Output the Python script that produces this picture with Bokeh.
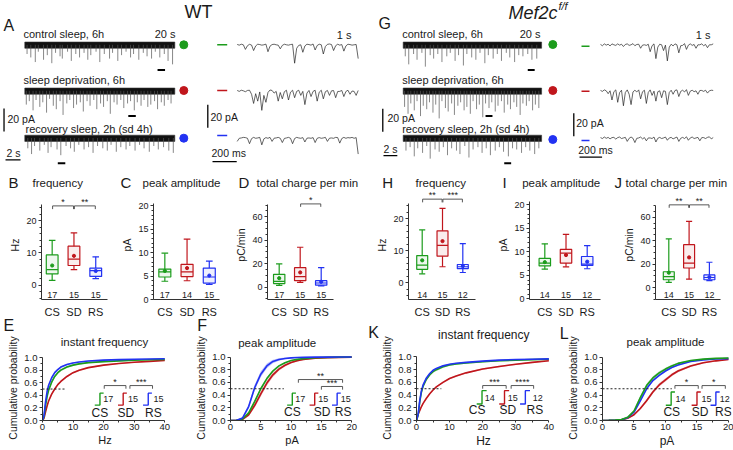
from bokeh.plotting import figure
from bokeh.models import Range1d, FixedTicker, PrintfTickFormatter
from bokeh.layouts import column, row
from bokeh.embed import file_html
from bokeh.resources import INLINE
from bokeh.core.properties import value

FONT = "Liberation Sans"
GREEN, RED, BLUE = "#1c9c1c", "#c0161c", "#2232f2"
COLORS = [GREEN, RED, BLUE]
GROUPS = ["CS", "SD", "RS"]
AX = "#333333"
TXT = "#1a1a1a"
W = 733

# ======================= DATA =======================
# --- example traces (pA) ---
TRACE_OFFSETS = [0, -40, -81]          # stacking of CS / SD / RS traces (pA)
LONG_DUR = 20.0                         # s
SHORT_DUR = 1.0                         # s
BAND_LO, BAND_HI = -3.0, 2.4            # baseline noise band of 20 s traces (pA)
SCALE_PA, SCALE_S, SCALE_MS = 20, 2, 0.2

WT_CS_t = [0.3, 0.8, 1.4, 1.8, 2.5, 3.0, 3.6, 4.1, 4.7, 5.0, 5.7, 6.2, 6.8, 7.3, 7.9, 8.4, 8.8, 9.5, 10.0, 10.6,
           11.3, 11.7, 12.4, 12.9, 13.5, 14.1, 14.5, 15.2, 15.8, 16.3, 16.9, 17.4, 18.0, 18.6, 19.1, 19.7]
WT_CS_a = [8, 11, 15, 6, 13, 9, 16, 7, 10, 12, 6, 14, 8, 11, 7, 13, 9, 6, 15, 8,
           12, 7, 14, 9, 6, 11, 8, 13, 7, 10, 12, 6, 11, 8, 14, 17]
WT_SD_t = [0.2, 0.6, 1.1, 1.5, 2.0, 2.4, 2.9, 3.3, 3.8, 4.2, 4.7, 5.1, 5.6, 6.0, 6.5, 6.9, 7.4, 7.8, 8.3, 8.7,
           9.2, 9.6, 10.1, 10.5, 11.0, 11.4, 11.9, 12.3, 12.8, 13.2, 13.7, 14.1, 14.6, 15.0, 15.5, 15.9, 16.4,
           16.8, 17.3, 17.7, 18.2, 18.6, 19.1, 19.5]
WT_SD_a = [12, 9, 17, 8, 14, 10, 19, 7, 13, 16, 9, 21, 11, 8, 15, 12, 10, 18, 9, 13,
           8, 16, 11, 14, 9, 20, 10, 12, 8, 15, 11, 9, 17, 10, 13, 8, 14, 12, 9, 16, 10, 13, 8, 11]
WT_RS_t = [0.4, 0.9, 1.3, 2.0, 2.6, 3.1, 3.5, 4.3, 4.8, 5.5, 6.1, 6.6, 7.2, 7.9, 8.5, 9.1, 9.7, 10.4, 11.0,
           11.5, 12.2, 12.8, 13.5, 14.0, 14.7, 15.3, 15.9, 16.6, 17.2, 17.8, 18.5, 19.2, 19.8]
WT_RS_a = [9, 14, 7, 11, 6, 13, 8, 10, 15, 7, 9, 12, 6, 10, 8, 13, 7, 9, 11, 6, 12, 8, 10, 7, 11, 6, 9,
           12, 7, 10, 8, 11, 13]
M_CS_t = [0.3, 0.8, 1.5, 2.0, 2.7, 3.2, 3.9, 4.4, 5.0, 5.6, 6.3, 6.8, 7.5, 8.0, 8.7, 9.2, 9.9, 10.5, 11.1,
          11.8, 12.3, 13.0, 13.6, 14.2, 14.9, 15.4, 16.1, 16.7, 17.3, 18.0, 18.6, 19.3]
M_CS_a = [10, 17, 8, 13, 7, 19, 9, 12, 8, 15, 10, 7, 14, 9, 18, 8, 11, 13, 7, 16, 9, 12, 8, 14, 7, 11,
          15, 9, 10, 8, 13, 12]
M_SD_t = [0.2, 0.7, 1.1, 1.6, 2.0, 2.5, 2.9, 3.4, 3.8, 4.3, 4.7, 5.2, 5.6, 6.1, 6.5, 7.0, 7.4, 7.9, 8.3, 8.8,
          9.2, 9.7, 10.1, 10.6, 11.0, 11.5, 11.9, 12.4, 12.8, 13.3, 13.7, 14.2, 14.6, 15.1, 15.5, 16.0, 16.4,
          16.9, 17.3, 17.8, 18.2, 18.7, 19.1, 19.6]
M_SD_a = [14, 20, 11, 17, 9, 22, 13, 16, 10, 19, 12, 24, 9, 15, 18, 11, 21, 13, 10, 17, 14, 20, 9, 16,
          12, 23, 11, 15, 10, 18, 13, 9, 19, 12, 16, 10, 14, 21, 11, 13, 9, 17, 12, 15]
M_RS_t = [0.4, 1.0, 1.6, 2.1, 2.8, 3.4, 3.9, 4.6, 5.2, 5.8, 6.4, 7.0, 7.7, 8.2, 8.9, 9.5, 10.1, 10.8, 11.4,
          12.0, 12.6, 13.3, 13.9, 14.5, 15.2, 15.8, 16.4, 17.1, 17.7, 18.3, 19.0, 19.6]
M_RS_a = [11, 8, 16, 9, 13, 7, 18, 10, 12, 8, 15, 9, 11, 14, 7, 17, 10, 8, 13, 9, 15, 11, 8, 12, 16, 9,
          10, 13, 8, 11, 14, 9]

WT_CS_s = [0.3, -0.3, 0.5, 0.0, -4.0, -0.8, 0.4, -0.2, -5.0, -1.0,
           0.5, 0.2, -0.3, 0.0, 0.6, -6.0, -1.2, 0.2, 0.5, 0.0,
           -0.3, -3.5, -0.5, 0.5, 0.0, -0.3, 0.2, 0.5, -16.0, -3.0,
           -0.5, 0.0, -6.5, -1.0, 0.5, 0.2, -0.3, 0.7, -4.5, -0.6,
           0.5, 0.0, -8.0, -1.5, 0.4, 0.7, 0.2, -5.0, -0.8, 0.5,
           -0.3, 0.2, -5.5, -1.0, 0.5, 0.2, -0.3, 0.0, 0.3, -12.0]
WT_SD_s = [0.3, -0.5, 0.5, 0.0, -0.8, 0.3, 0.5, -3.0, -11.0, -2.5,
           -9.0, -1.0, -17.0, -4.0, -10.0, -1.5, 0.7, 0.3, -2.0, -0.5,
           -9.0, -1.5, -7.0, -0.8, 0.5, -8.0, -1.2, 0.5, -6.0, -0.5,
           0.5, -4.0, -0.5, -12.0, -2.0, 0.3, -5.0, -0.5, 0.5, -9.0,
           -1.2, 0.5, -7.0, -0.8, 0.3, -4.0, 0.0, 0.2, -6.0, -0.6,
           -0.5, 0.3, -5.0, -0.6, 0.5, -3.0, -0.2, -0.5, -4.0, 0.3]
WT_RS_s = [-3.0, -0.3, 0.0, 0.5, 0.3, -0.3, -5.0, -0.6, 0.5, -0.3,
           0.0, 0.5, -6.0, -0.8, 0.3, -0.3, 0.5, -3.0, -0.2, 0.0,
           0.5, -0.3, -4.0, -0.4, 0.0, 0.5, -0.3, -5.0, -0.5, 0.5,
           0.0, -0.3, 0.3, -3.5, -0.2, 0.0, -0.3, 0.3, -4.0, -0.3,
           0.3, -0.3, 0.0, 0.5, -3.0, -0.2, 0.0, -0.3, 0.5, 0.3,
           -4.5, -0.5, 0.5, -0.3, 0.3, 0.0, 0.5, -0.3, 0.3, -14.0]
M_CS_s = [0.3, -0.8, 0.8, -0.3, 0.5, -1.0, 0.8, 0.0, -0.5, 0.8,
          -0.3, 0.5, -1.5, 0.3, 0.8, -0.5, 0.0, 1.0, -0.8, 0.3,
          0.5, -3.0, -0.3, 0.0, -0.5, 0.5, -6.0, -0.8, 0.8, -12.0,
          -2.0, 0.5, 0.0, -5.0, -0.3, -14.0, -2.0, 0.5, -1.0, 0.8,
          0.0, -7.0, -0.8, -0.5, 1.0, -4.0, -0.3, 0.8, -0.5, 0.3,
          -3.0, 0.0, 0.0, 0.8, -0.8, 0.3, -2.5, 0.0, 0.0, 0.8]
M_SD_s = [0.3, -0.5, 0.8, 0.0, -2.5, 0.0, -8.0, -0.8, 0.8, -10.0,
          -1.5, 0.5, -13.0, -1.5, 0.8, -3.0, -12.0, -1.0, 0.5, -1.0,
          0.8, -7.0, -0.8, 0.5, -11.0, -1.5, 0.8, -4.0, -0.3, -9.0,
          -0.8, 0.0, -6.0, 0.0, -0.5, -12.0, -1.5, 0.5, -3.0, 0.3,
          0.8, -5.0, -0.5, 0.5, -1.0, 1.0, -4.0, -0.3, 0.5, -0.8,
          0.0, -3.0, 0.3, 0.3, -0.5, 0.5, -2.0, 0.0, 0.5, 0.3]
M_RS_s = [0.3, -0.5, 0.8, -0.3, 0.5, -0.8, 0.3, 0.5, -1.0, 0.3,
          0.8, -0.5, 0.0, 0.5, -3.0, -0.3, 0.8, -0.3, -4.0, -0.3,
          0.0, 0.8, -0.8, 0.3, -2.5, 0.0, 0.0, -0.5, 0.8, -3.5,
          -0.3, 0.5, -0.5, 0.0, 0.8, -2.0, 0.0, 0.5, -0.8, 0.0,
          0.8, -3.0, -0.3, 0.5, -0.5, 1.0, -2.0, 0.0, 0.8, -0.5,
          0.0, 0.5, -2.5, 0.3, 0.3, -0.5, 0.5, 1.0, -0.8, 0.3]
WT_EXCERPT_T = [17.7, 13.8, 4.4]   # s, where the 1 s excerpt was taken
M_EXCERPT_T = [18.0, 11.9, 14.6]

# --- box plots: low whisker, Q1, median, Q3, high whisker, mean ---
B_LOW, B_Q1, B_MED, B_Q3, B_HIGH, B_MEAN = [1.5, 4.8, 2.0], [3.5, 6.1, 2.7], [4.8, 8.1, 4.5], [9.4, 12.1, 5.3], [13.9, 16.2, 8.8], [6.1, 9.1, 4.4]
C_LOW, C_Q1, C_MED, C_Q3, C_HIGH, C_MEAN = [3.9, 4.0, 3.2], [4.8, 4.9, 3.5], [5.9, 5.9, 4.8], [6.5, 7.5, 6.7], [9.9, 12.9, 8.2], [6.1, 6.7, 5.1]
D_LOW, D_Q1, D_MED, D_Q3, D_HIGH, D_MEAN = [1.5, 4.1, 1.0], [3.0, 5.5, 1.6], [4.9, 9.0, 3.5], [10.9, 16.6, 5.5], [19.8, 34.0, 16.6], [7.6, 12.5, 4.5]
H_LOW, H_Q1, H_MED, H_Q3, H_HIGH, H_MEAN = [2.8, 5.0, 3.2], [4.2, 8.3, 4.4], [5.5, 11.7, 5.0], [8.5, 16.2, 5.7], [16.5, 23.2, 12.2], [7.0, 13.0, 5.2]
I_LOW, I_Q1, I_MED, I_Q3, I_HIGH, I_MEAN = [6.3, 6.8, 6.4], [7.0, 7.6, 7.1], [7.6, 9.7, 7.4], [8.6, 10.5, 9.0], [11.7, 13.7, 11.3], [7.8, 9.3, 7.9]
J_LOW, J_Q1, J_MED, J_Q3, J_HIGH, J_MEAN = [4.6, 7.3, 6.0], [6.8, 16.8, 6.8], [9.5, 20.9, 8.7], [13.6, 36.6, 10.9], [41.5, 56.4, 21.7], [12.8, 25.8, 9.0]
N_WT_FREQ, N_WT_AMP, N_WT_CHG = [17, 15, 15], [17, 14, 15], [17, 15, 15]
N_M = [14, 15, 12]
SIG_B = [(1, 2, "*"), (2, 3, "**")]
SIG_D = [(2, 3, "*")]
SIG_H = [(1, 2, "**"), (2, 3, "***")]
SIG_J = [(1, 2, "**"), (2, 3, "**")]

# --- cumulative distributions (mean curve and SEM band) ---
E_X = [0, 0.5, 1, 1.5, 2, 3, 4, 5, 6, 8, 10, 12, 15, 20, 25, 30, 35, 40]
E_CS = [0, 0.06, 0.24, 0.38, 0.48, 0.61, 0.70, 0.76, 0.80, 0.85, 0.88, 0.90, 0.92, 0.935, 0.947, 0.957, 0.965, 0.972]
E_SD = [0, 0.04, 0.14, 0.23, 0.31, 0.42, 0.50, 0.57, 0.62, 0.70, 0.76, 0.80, 0.84, 0.88, 0.905, 0.925, 0.94, 0.955]
E_RS = [0, 0.08, 0.30, 0.46, 0.56, 0.68, 0.76, 0.81, 0.85, 0.89, 0.915, 0.93, 0.945, 0.96, 0.968, 0.974, 0.978, 0.982]
E_SEM_CS = [0, 0.01, 0.02, 0.025, 0.025, 0.025, 0.022, 0.02, 0.018, 0.016, 0.014, 0.012, 0.011, 0.01, 0.009, 0.008, 0.007, 0.006]
E_SEM_SD = [0, 0.008, 0.015, 0.018, 0.018, 0.018, 0.017, 0.016, 0.015, 0.014, 0.013, 0.012, 0.011, 0.01, 0.009, 0.008, 0.007, 0.006]
E_SEM_RS = [0, 0.01, 0.02, 0.022, 0.022, 0.02, 0.018, 0.016, 0.014, 0.012, 0.01, 0.009, 0.008, 0.007, 0.006, 0.005, 0.005, 0.004]

F_X = [0, 1, 2, 3, 4, 5, 6, 7, 8, 9, 10, 11, 12, 14, 16, 18, 20]
F_CS = [0, 0.004, 0.025, 0.12, 0.30, 0.50, 0.66, 0.78, 0.86, 0.91, 0.945, 0.963, 0.975, 0.988, 0.994, 0.998, 1.0]
F_SD = [0, 0.003, 0.02, 0.09, 0.24, 0.42, 0.59, 0.72, 0.81, 0.87, 0.915, 0.943, 0.96, 0.98, 0.99, 0.995, 0.998]
F_RS = [0, 0.005, 0.04, 0.22, 0.52, 0.73, 0.86, 0.93, 0.96, 0.977, 0.987, 0.992, 0.995, 0.998, 0.999, 1.0, 1.0]
F_SEM_CS = [0, 0.002, 0.01, 0.02, 0.025, 0.025, 0.022, 0.018, 0.014, 0.011, 0.008, 0.006, 0.005, 0.003, 0.002, 0.001, 0]
F_SEM_SD = [0, 0.002, 0.01, 0.025, 0.035, 0.04, 0.038, 0.033, 0.027, 0.021, 0.016, 0.012, 0.009, 0.006, 0.004, 0.002, 0.001]
F_SEM_RS = [0, 0.003, 0.015, 0.035, 0.045, 0.045, 0.038, 0.028, 0.02, 0.014, 0.01, 0.007, 0.005, 0.003, 0.002, 0.001, 0]

K_X = [0, 0.5, 1, 1.5, 2, 3, 4, 5, 6, 8, 10, 12, 15, 20, 25, 30, 35, 40]
K_CS = [0, 0.09, 0.30, 0.45, 0.54, 0.65, 0.72, 0.77, 0.80, 0.845, 0.875, 0.89, 0.905, 0.925, 0.94, 0.95, 0.958, 0.965]
K_SD = [0, 0.10, 0.16, 0.22, 0.27, 0.35, 0.42, 0.48, 0.53, 0.60, 0.66, 0.70, 0.75, 0.81, 0.85, 0.885, 0.915, 0.94]
K_RS = [0, 0.10, 0.32, 0.47, 0.56, 0.67, 0.74, 0.79, 0.82, 0.86, 0.885, 0.90, 0.915, 0.935, 0.95, 0.96, 0.965, 0.97]
K_SEM_CS = [0, 0.01, 0.02, 0.025, 0.025, 0.024, 0.022, 0.02, 0.019, 0.017, 0.015, 0.014, 0.012, 0.011, 0.01, 0.009, 0.008, 0.008]
K_SEM_SD = [0, 0.01, 0.01, 0.01, 0.011, 0.011, 0.012, 0.012, 0.012, 0.012, 0.012, 0.012, 0.011, 0.011, 0.01, 0.01, 0.009, 0.009]
K_SEM_RS = [0, 0.008, 0.012, 0.013, 0.013, 0.012, 0.011, 0.01, 0.009, 0.008, 0.008, 0.007, 0.007, 0.006, 0.006, 0.005, 0.005, 0.005]

L_X = [0, 1, 2, 3, 4, 5, 6, 7, 8, 9, 10, 11, 12, 14, 16, 18, 20]
L_CS = [0, 0.002, 0.006, 0.015, 0.05, 0.15, 0.36, 0.55, 0.67, 0.75, 0.81, 0.86, 0.90, 0.945, 0.967, 0.978, 0.985]
L_SD = [0, 0.002, 0.005, 0.01, 0.035, 0.09, 0.19, 0.31, 0.45, 0.56, 0.64, 0.72, 0.78, 0.86, 0.91, 0.94, 0.96]
L_RS = [0, 0.002, 0.005, 0.013, 0.045, 0.13, 0.31, 0.50, 0.63, 0.71, 0.78, 0.835, 0.875, 0.93, 0.955, 0.968, 0.975]
L_SEM_CS = [0, 0.001, 0.003, 0.006, 0.012, 0.02, 0.03, 0.03, 0.028, 0.025, 0.022, 0.018, 0.015, 0.01, 0.007, 0.005, 0.004]
L_SEM_SD = [0, 0.001, 0.002, 0.004, 0.008, 0.014, 0.02, 0.024, 0.025, 0.025, 0.024, 0.022, 0.02, 0.016, 0.012, 0.009, 0.007]
L_SEM_RS = [0, 0.001, 0.002, 0.004, 0.008, 0.012, 0.015, 0.016, 0.016, 0.015, 0.014, 0.012, 0.011, 0.008, 0.006, 0.005, 0.004]

SIG_E = ["*", "***"]
SIG_F = ["**", "***"]
SIG_K = ["***", "****"]
SIG_L = ["*", "*"]


# ======================= HELPERS =======================
def base_fig(**kw):
    p = figure(output_backend="svg", toolbar_location=None, title=None, **kw)
    p.background_fill_color = "white"
    p.border_fill_color = "white"
    p.outline_line_color = None
    return p


def style_axes(p, tick_size="9px", label_size="10.5px"):
    for ax in p.axis:
        ax.axis_line_color = AX
        ax.major_tick_line_color = AX
        ax.minor_tick_line_color = AX
        ax.major_label_text_font = FONT
        ax.axis_label_text_font = FONT
        ax.major_label_text_font_size = tick_size
        ax.axis_label_text_font_size = label_size
        ax.axis_label_text_font_style = "normal"
        ax.major_label_text_color = TXT
        ax.axis_label_text_color = TXT
        ax.major_tick_out = 3
        ax.major_tick_in = 0
        ax.minor_tick_out = 2
        ax.minor_tick_in = 0
        ax.major_label_standoff = 2
        ax.axis_label_standoff = 2
    p.grid.grid_line_color = None


def txt(p, x, y, s, size, align="left", style="normal", color=TXT, baseline="middle", **kw):
    p.text(x=[x], y=[y], text=[s], text_font=value(FONT), text_font_size=f"{size}px",
           text_align=align, text_baseline=baseline, text_font_style=style, text_color=color, **kw)


# ======================= TOP: example traces =======================
TOP_H = 190
top = base_fig(width=W, height=TOP_H, x_range=Range1d(0, W), y_range=Range1d(TOP_H, 0),
               x_axis_location=None, y_axis_location=None, min_border=0)
top.grid.grid_line_color = None

# placement of the trace blocks (pixel origin, pixels per unit)
PA_ORIGIN, PA_PX = 44.3, 1.15
PLACE = {"sL": (24.3, 7.5), "sR": (402.7, 6.92), "mL": (236.7, 121.0), "mR": (600.0, 112.7)}
top.extra_x_ranges = {k: Range1d((0 - o) / s, (W - o) / s) for k, (o, s) in PLACE.items()}
top.extra_y_ranges = {"pA": Range1d((PA_ORIGIN - TOP_H) / PA_PX, PA_ORIGIN / PA_PX)}

long_sets = {"sL": [(WT_CS_t, WT_CS_a), (WT_SD_t, WT_SD_a), (WT_RS_t, WT_RS_a)],
             "sR": [(M_CS_t, M_CS_a), (M_SD_t, M_SD_a), (M_RS_t, M_RS_a)]}
short_sets = {"mL": [WT_CS_s, WT_SD_s, WT_RS_s], "mR": [M_CS_s, M_SD_s, M_RS_s]}
excerpts = {"sL": WT_EXCERPT_T, "sR": M_EXCERPT_T}

for rn, sets in long_sets.items():
    for off, (ts, amps) in zip(TRACE_OFFSETS, sets):
        top.quad(left=[0], right=[LONG_DUR], bottom=[off + BAND_LO], top=[off + BAND_HI],
                 fill_color="#111111", line_color="#333333", line_width=0.6,
                 x_range_name=rn, y_range_name="pA")
        top.segment(x0=ts, x1=ts, y0=[off] * len(ts), y1=[off - a for a in amps],
                    line_color="#555555", line_width=0.7, x_range_name=rn, y_range_name="pA")
    ex = excerpts[rn]
    top.segment(x0=ex, x1=[t + SHORT_DUR for t in ex], y0=[o - 22 for o in TRACE_OFFSETS],
                y1=[o - 22 for o in TRACE_OFFSETS], line_color="black", line_width=2,
                x_range_name=rn, y_range_name="pA")

for rn, sets in short_sets.items():
    for off, vals in zip(TRACE_OFFSETS, sets):
        n = len(vals)
        xs = [SHORT_DUR * i / (n - 1) for i in range(n)]
        top.line(xs, [off + v for v in vals], line_color="#222222", line_width=0.7,
                 x_range_name=rn, y_range_name="pA")


def vbar_scale(rn, x, y_top):
    top.segment(x0=[x], x1=[x], y0=[y_top], y1=[y_top - SCALE_PA], line_color="black",
                line_width=1.3, x_range_name=rn, y_range_name="pA")


def hbar_scale(rn, x0, y, length):
    top.segment(x0=[x0], x1=[x0 + length], y0=[y], y1=[y], line_color="black",
                line_width=1.3, x_range_name=rn, y_range_name="pA")


vbar_scale("sL", -2.77, -55.4)
hbar_scale("sL", -2.57, -100.0, SCALE_S)
vbar_scale("mL", -0.243, -52.2)
hbar_scale("mL", -0.204, -101.5, SCALE_MS)
vbar_scale("sR", -2.95, -55.7)
hbar_scale("sR", -2.85, -96.3, SCALE_S)
vbar_scale("mR", -0.237, -59.5)
hbar_scale("mR", -0.186, -97.7, SCALE_MS)

# condition dots and dashes
top.scatter(x=[183.3] * 3, y=[44.3, 90, 137.7], size=8, color=COLORS)
top.scatter(x=[552.3] * 3, y=[44, 90, 139], size=8, color=COLORS)
top.segment(x0=[216.7] * 3, x1=[226.7] * 3, y0=[44.3, 90, 135], y1=[44.3, 90, 135], line_color=COLORS, line_width=1.6)
top.segment(x0=[581] * 3, x1=[589] * 3, y0=[45.7, 90.7, 140], y1=[45.7, 90.7, 140], line_color=COLORS, line_width=1.6)

# texts
txt(top, 198, 11, "WT", 18, "center")
txt(top, 557, 12, "Mef2c", 18, "right", "italic")
txt(top, 558, 5.5, "f/f", 11, "left", "italic")
txt(top, 3, 25, "A", 16)
txt(top, 378, 23, "G", 16)
for x0, xr20, xr1 in [(23, 175, 351), (401.7, 540, 710)]:
    txt(top, x0, 33, "control sleep, 6h", 11)
    txt(top, xr20, 33, "20 s", 11, "right")
    txt(top, xr1, 34, "1 s", 11, "right")
    txt(top, x0, 79, "sleep deprivation, 6h", 11)
    txt(top, x0 + (2 if x0 < 100 else 0), 128, "recovery sleep, 2h (sd 4h)", 11)
txt(top, 7, 118.3, "20 pA", 10.5)
txt(top, 6, 152.5, "2 s", 10.5)
txt(top, 210, 116, "20 pA", 10.5)
txt(top, 211, 152.5, "200 ms", 10.5)
txt(top, 387, 117.3, "20 pA", 10.5)
txt(top, 383, 148.5, "2 s", 10.5)
txt(top, 575.7, 122.7, "20 pA", 10.5)
txt(top, 577.7, 149.5, "200 ms", 10.5)
for x, s in [(8, "B"), (120, "C"), (238, "D"), (381.7, "H"), (502, "I"), (614, "J")]:
    txt(top, x, 182, s, 15)
for x, s in [(32, "frequency"), (142, "peak amplitude"), (256, "total charge per min"),
             (415, "frequency"), (521.7, "peak amplitude"), (625, "total charge per min")]:
    txt(top, x, 182.5, s, 11.5)


# ======================= BOX PLOTS =======================
BOX_H, BOX_BOTTOM = 130, 16
BOX_FRAME_H = BOX_H - BOX_BOTTOM


def box_panel(width, left, right, xr, yr, ybounds, yticks, yminor, ylabel, stats, counts, sig, sig_y, sig_tick):
    low, q1, med, q3, high, mean = stats
    p = base_fig(width=width, height=BOX_H, x_range=Range1d(*xr), y_range=Range1d(*yr),
                 min_border_left=left, min_border_right=right, min_border_top=0,
                 min_border_bottom=BOX_BOTTOM)
    xs = [1, 2, 3]
    hw, cw = 0.27, 0.15
    p.vbar(x=xs, width=2 * hw, bottom=q1, top=q3, fill_color=COLORS, fill_alpha=0.08,
           line_color=COLORS, line_width=1.2)
    p.segment(x0=[x - hw for x in xs], x1=[x + hw for x in xs], y0=med, y1=med, line_color=COLORS, line_width=1.2)
    p.segment(x0=xs, x1=xs, y0=low, y1=q1, line_color=COLORS, line_width=1.2)
    p.segment(x0=xs, x1=xs, y0=q3, y1=high, line_color=COLORS, line_width=1.2)
    p.segment(x0=[x - cw for x in xs], x1=[x + cw for x in xs], y0=low, y1=low, line_color=COLORS, line_width=1.2)
    p.segment(x0=[x - cw for x in xs], x1=[x + cw for x in xs], y0=high, y1=high, line_color=COLORS, line_width=1.2)
    p.scatter(x=xs, y=mean, size=3.2, color=COLORS)
    unit = (yr[1] - yr[0]) / BOX_FRAME_H
    cy = yr[0] + 4.5 * unit
    p.text(x=xs, y=[cy] * 3, text=[str(n) for n in counts], text_align="center", text_baseline="middle",
           text_font=value(FONT), text_font_size="9px", text_color=TXT)
    for a, b, lab in sig:
        x0, x1 = a + 0.02, b - 0.02
        p.segment(x0=[x0, x0, x1], x1=[x1, x0, x1], y0=[sig_y, sig_y, sig_y],
                  y1=[sig_y, sig_y - sig_tick, sig_y - sig_tick], line_color="#444444", line_width=0.9)
        txt(p, (a + b) / 2, sig_y + 4 * unit, lab, 9, "center")
    p.xaxis.ticker = FixedTicker(ticks=xs)
    p.xaxis.major_label_overrides = {1: "CS", 2: "SD", 3: "RS"}
    p.yaxis.ticker = FixedTicker(ticks=yticks, minor_ticks=yminor)
    p.yaxis.bounds = ybounds
    p.yaxis.axis_label = ylabel
    style_axes(p)
    p.xaxis.major_tick_line_color = None
    p.xaxis.minor_tick_line_color = None
    p.xaxis.major_label_text_font_size = "11px"
    p.xaxis.major_label_standoff = 3
    return p


MINOR_HZ = [-4, -2, 2, 4, 6, 8, 12, 14, 16, 18, 22, 24]
MINOR_PA = [1, 2, 3, 4, 6, 7, 8, 9, 11, 12, 13, 14, 16, 17, 18, 19]
MINOR_PC = [-10, -5, 5, 10, 15, 25, 30, 35, 45, 50, 55, 65, 70]

pB = box_panel(118, 41, 11, (0.51, 3.54), (-4.45, 29.38), (-4.45, 25), [0, 10, 20], MINOR_HZ, "Hz",
               (B_LOW, B_Q1, B_MED, B_Q3, B_HIGH, B_MEAN), N_WT_FREQ, SIG_B, 24.6, 1.0)
pC = box_panel(112, 35, 11, (0.49, 3.46), (0, 23.27), (0, 20.4), [0, 5, 10, 15, 20], MINOR_PA, "pA",
               (C_LOW, C_Q1, C_MED, C_Q3, C_HIGH, C_MEAN), N_WT_AMP, [], 0, 0)
pD = box_panel(128, 37, 25, (0.443, 3.586), (-10.6, 82.45), (-10.6, 70.6), [0, 20, 40, 60], MINOR_PC, "pC/min",
               (D_LOW, D_Q1, D_MED, D_Q3, D_HIGH, D_MEAN), N_WT_CHG, SIG_D, 71.0, 2.5)
pH = box_panel(134, 50, 17, (0.325, 3.625), (-5.22, 28.8), (-5.22, 24.8), [0, 10, 20], MINOR_HZ, "Hz",
               (H_LOW, H_Q1, H_MED, H_Q3, H_HIGH, H_MEAN), N_M, SIG_H, 26.1, 1.0)
pI = box_panel(125, 37, 17, (0.278, 3.627), (-0.14, 23.03), (-0.14, 20.6), [0, 5, 10, 15, 20], MINOR_PA, "pA",
               (I_LOW, I_Q1, I_MED, I_Q3, I_HIGH, I_MEAN), N_M, [], 0, 0)
pJ = box_panel(116, 38, 13, (0.345, 3.547), (-10.0, 82.7), (-10.0, 70.2), [0, 20, 40, 60], MINOR_PC, "pC/min",
               (J_LOW, J_Q1, J_MED, J_Q3, J_HIGH, J_MEAN), N_M, SIG_J, 70.5, 2.5)


# ======================= CUMULATIVE PLOTS =======================
CUM_H = 130


def cum_panel(width, left, right, top_b, bottom_b, xr, yr, xticks, xminor, xlabel, xlabel_size,
              xs, curves, sems, order, dash_end, icon_x, icon_bl, icon_tr, icon_y, num_x, num_y,
              counts, grp_x, grp_y, brackets, stars):
    p = base_fig(width=width, height=CUM_H, x_range=Range1d(*xr), y_range=Range1d(*yr),
                 min_border_left=left, min_border_right=right, min_border_top=top_b,
                 min_border_bottom=bottom_b)
    for k in order:
        y, s = curves[k], sems[k]
        p.varea(x=xs, y1=[a - b for a, b in zip(y, s)], y2=[a + b for a, b in zip(y, s)],
                fill_color=COLORS[k], fill_alpha=0.3)
    for k in order:
        p.line(xs, curves[k], line_color=COLORS[k], line_width=1.6)
    p.line([0, dash_end], [0.5, 0.5], line_color="#222222", line_dash="2 2", line_width=1)
    for k in range(3):
        v = icon_x[k]
        p.line([v - icon_bl, v, v, v + icon_tr], [icon_y[0], icon_y[0], icon_y[1], icon_y[1]],
               line_color=COLORS[k], line_width=1.4)
        txt(p, num_x[k], num_y, str(counts[k]), 9)
        txt(p, grp_x[k], grp_y, GROUPS[k], 12, "center")
    for (x0, x1, yb), lab in zip(brackets, stars):
        tk = 0.05
        p.segment(x0=[x0, x0, x1], x1=[x1, x0, x1], y0=[yb, yb, yb], y1=[yb, yb - tk, yb - tk],
                  line_color="#444444", line_width=0.9)
        txt(p, (x0 + x1) / 2, yb + 0.06, lab, 9, "center")
    p.xaxis.ticker = FixedTicker(ticks=xticks, minor_ticks=xminor)
    p.xaxis.bounds = (0, xticks[-1])
    p.yaxis.ticker = FixedTicker(ticks=[0, 0.2, 0.4, 0.6, 0.8, 1.0], minor_ticks=[0.1, 0.3, 0.5, 0.7, 0.9])
    p.yaxis.bounds = (0, 1)
    p.yaxis.formatter = PrintfTickFormatter(format="%.1f")
    p.xaxis.axis_label = xlabel
    p.yaxis.axis_label = "Cumulative probability"
    style_axes(p, "9.5px", "10.5px")
    p.xaxis.axis_label_text_font_size = xlabel_size
    p.xaxis.major_tick_out = 2
    p.xaxis.major_label_standoff = 1
    p.xaxis.axis_label_standoff = 1
    return p


pE = cum_panel(192, 42, 25, 35, 23, (0, 40.9), (0, 1.033), [0, 10, 20, 30, 40], [5, 15, 25, 35], "Hz", "11px",
               E_X, [E_CS, E_SD, E_RS], [E_SEM_CS, E_SEM_SD, E_SEM_RS], [1, 0, 2], 7.5,
               [18.8, 26.4, 34.6], 1.7, 1.2, (0.245, 0.435), [19.9, 28.0, 36.3], 0.34,
               [17, 15, 15], [18.8, 27.3, 36.3], 0.125,
               [(20.2, 27.3, 0.555), (28.6, 36.0, 0.555)], SIG_E)
pF = cum_panel(173, 35, 12, 35, 23, (0, 20.3), (0, 1.024), [0, 5, 10, 15, 20], [2.5, 7.5, 12.5, 17.5], "pA", "11px",
               F_X, [F_CS, F_SD, F_RS], [F_SEM_CS, F_SEM_SD, F_SEM_RS], [1, 0, 2], 8.8,
               [10.2, 13.9, 17.6], 0.85, 0.6, (0.242, 0.431), [10.7, 14.5, 18.2], 0.336,
               [17, 15, 15], [10.2, 15.1, 18.6], 0.128,
               [(11.2, 18.5, 0.645), (15.0, 18.5, 0.536)], SIG_F)
pK = cum_panel(192, 51, 7, 29, 24, (0, 40.5), (0, 1.023), [0, 10, 20, 30, 40], [5, 15, 25, 35], "Hz", "12px",
               K_X, [K_CS, K_SD, K_RS], [K_SEM_CS, K_SEM_SD, K_SEM_RS], [1, 0, 2], 7.5,
               [19.8, 26.6, 32.9], 1.6, 1.4, (0.26, 0.47), [20.6, 27.6, 35.1], 0.35,
               N_M, [18.3, 27.6, 35.8], 0.17,
               [(20.0, 27.1, 0.55), (28.6, 35.4, 0.55)], SIG_K)
pL = cum_panel(176, 45, 2, 35, 23, (0, 20.48), (0, 1.024), [0, 5, 10, 15, 20], [2.5, 7.5, 12.5, 17.5], "pA", "12px",
               L_X, [L_CS, L_SD, L_RS], [L_SEM_CS, L_SEM_SD, L_SEM_RS], [1, 2, 0], 11.0,
               [10.9, 15.0, 18.0], 0.85, 0.6, (0.24, 0.45), [11.6, 15.7, 18.6], 0.345,
               N_M, [11.0, 15.5, 19.2], 0.133,
               [(11.5, 15.2, 0.55), (15.8, 19.5, 0.55)], SIG_L)

# transparent strip with the panel letters / titles of the lower row, laid over the
# top border of the cumulative plots (and the empty bottom of the box plots)
STRIP_TOP, STRIP_BOTTOM = 305, 352
strip = base_fig(width=W, height=STRIP_BOTTOM - STRIP_TOP, x_range=Range1d(0, W),
                 y_range=Range1d(STRIP_BOTTOM, STRIP_TOP),
                 x_axis_location=None, y_axis_location=None, min_border=0,
                 margin=(STRIP_TOP - (TOP_H + BOX_H + CUM_H), 0, 0, 0))
strip.grid.grid_line_color = None
strip.background_fill_alpha = 0
strip.border_fill_alpha = 0
txt(strip, 3, 325, "E", 16)
txt(strip, 104, 341.5, "instant frequency", 11.5, "center")
txt(strip, 196.7, 325, "F", 16)
txt(strip, 276.7, 342.5, "peak amplitude", 11.5, "center")
txt(strip, 367.7, 331.5, "K", 16)
txt(strip, 483.3, 334, "instant frequency", 12, "center")
txt(strip, 559.3, 333, "L", 16)
txt(strip, 665, 341.5, "peak amplitude", 11.5, "center")

layout = column(top, row(pB, pC, pD, pH, pI, pJ), row(pE, pF, pK, pL), strip)
open("out.html", "w").write(file_html(layout, INLINE))
